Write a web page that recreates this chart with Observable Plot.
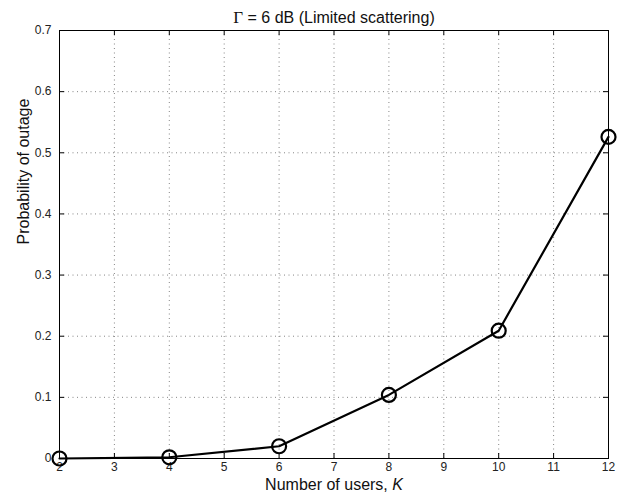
<!DOCTYPE html>
<html>
<head>
<meta charset="utf-8">
<script src="https://cdn.jsdelivr.net/npm/d3@7"></script>
<script src="https://cdn.jsdelivr.net/npm/@observablehq/plot@0.6"></script>
<style>
  html, body { margin: 0; padding: 0; background: white; }
</style>
</head>
<body>
<div id="chart"></div>
<script>
const K = [2, 4, 6, 8, 10, 12];
const outage = [0, 0.002, 0.02, 0.104, 0.209, 0.526];
const xTicks = [2, 3, 4, 5, 6, 7, 8, 9, 10, 11, 12];
const yTicks = [0, 0.1, 0.2, 0.3, 0.4, 0.5, 0.6, 0.7];
const yTickLabels = ["0", "0.1", "0.2", "0.3", "0.4", "0.5", "0.6", "0.7"];
const titleText = "Γ = 6 dB (Limited scattering)";
const xLabel = "Number of users, K";
const yLabel = "Probability of outage";

const W = 629, H = 498, mT = 30, mB = 40, mL = 59, mR = 21;
const innerW = W - mL - mR, innerH = H - mT - mB;
const tickLen = 5;
const data = K.map((k, i) => ({k, p: outage[i]}));

const chart = Plot.plot({
  width: W,
  height: H,
  marginTop: mT,
  marginBottom: mB,
  marginLeft: mL,
  marginRight: mR,
  style: {fontFamily: "'Liberation Sans', Arial, sans-serif", fontSize: "12px", background: "white", color: "#222"},
  x: {domain: [2, 12], ticks: xTicks, tickSize: 0, tickPadding: 4, label: null},
  y: {domain: [0, 0.7], ticks: yTicks, tickSize: 0, tickPadding: 8, label: null,
      tickFormat: d => yTickLabels[yTicks.indexOf(d)]},
  marks: [
    // dotted grid
    Plot.ruleX(xTicks.slice(1, -1), {stroke: "#666", strokeDasharray: "1,3.5", strokeWidth: 0.8}),
    Plot.ruleY(yTicks.slice(1, -1), {stroke: "#666", strokeDasharray: "1,3.5", strokeWidth: 0.8}),
    // inward ticks
    Plot.ruleX(xTicks, {stroke: "black", insetTop: innerH - tickLen}),
    Plot.ruleX(xTicks, {stroke: "black", insetBottom: innerH - tickLen}),
    Plot.ruleY(yTicks, {stroke: "black", insetRight: innerW - tickLen}),
    Plot.ruleY(yTicks, {stroke: "black", insetLeft: innerW - tickLen}),
    Plot.frame({stroke: "black", strokeWidth: 1}),
    // series
    Plot.line(data, {x: "k", y: "p", stroke: "black", strokeWidth: 2.2}),
    Plot.dot(data, {x: "k", y: "p", r: 7, stroke: "black", strokeWidth: 2.2, fill: "none"}),
    // titles
    Plot.text([titleText], {text: d => d, frameAnchor: "top", dy: -19, fontSize: 16, fill: "#111"}),
    Plot.text([xLabel], {text: d => d, frameAnchor: "bottom", dy: 31, fontSize: 16, fill: "#111"}),
    Plot.text([yLabel], {text: d => d, frameAnchor: "left", dx: -36, rotate: -90, fontSize: 16, fill: "#111"})
  ]
});

chart.querySelectorAll('g[aria-label*="axis"]').forEach(g => {
  g.setAttribute("font-size", "12");
  g.style.fontSize = "12px";
  g.querySelectorAll("text").forEach(t => { t.style.fontSize = "12px"; t.style.fill = "#222"; });
});

chart.querySelectorAll("text").forEach(t => {
  if (t.textContent === xLabel) {
    t.innerHTML = 'Number of users, <tspan font-style="italic">K</tspan>';
  } else if (t.textContent === titleText) {
    t.innerHTML = '<tspan font-family="Liberation Serif, Times New Roman, serif" font-size="17">Γ</tspan> = 6 dB (Limited scattering)';
  }
});

document.getElementById("chart").appendChild(chart);
</script>
</body>
</html>
